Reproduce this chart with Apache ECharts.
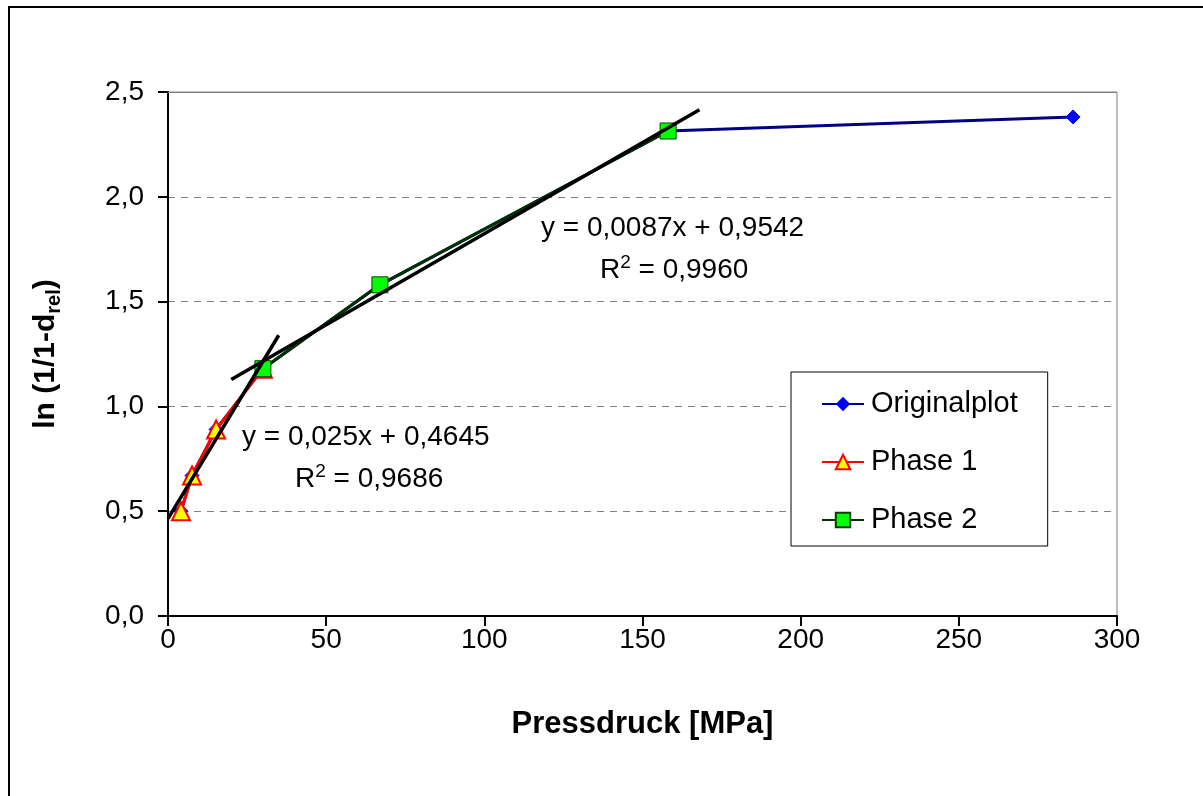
<!DOCTYPE html>
<html>
<head>
<meta charset="utf-8">
<script src="https://cdn.jsdelivr.net/npm/echarts@6/dist/echarts.min.js"></script>
<style>
html,body{margin:0;padding:0;background:#fff;}
#c{width:1203px;height:796px;}
</style>
</head>
<body>
<div id="c"></div>
<script>
// Data
const originalX = [4.1, 7.6, 15.2, 30.0, 67.0, 158.1, 286.1];
const originalY = [0.50, 0.67, 0.89, 1.18, 1.58, 2.314, 2.381];
const phase1X = [4.1, 7.6, 15.2, 30.0];
const phase1Y = [0.50, 0.67, 0.89, 1.18];
const phase2X = [30.0, 67.0, 158.1];
const phase2Y = [1.18, 1.58, 2.314];
// Trendline endpoints (from the displayed equations)
const trend1X = [0, 35];
const trend1Y = [0.4645, 1.3395];
const trend2X = [20, 168];
const trend2Y = [1.1282, 2.4158];
const xTicks = [0, 50, 100, 150, 200, 250, 300];
const yTicks = [0, 0.5, 1.0, 1.5, 2.0, 2.5];

const pairs = (xs, ys) => xs.map((x, i) => [x, ys[i]]);
const FONT = '"Liberation Sans", Arial, sans-serif';

const chart = echarts.init(document.getElementById('c'), null, {renderer: 'canvas'});
chart.setOption({
  backgroundColor: '#fff',
  animation: false,
  textStyle: {fontFamily: FONT},
  grid: {left: 168, top: 92, right: 86, bottom: 180, show: true, borderColor: '#808080', borderWidth: 1, backgroundColor: 'transparent'},
  xAxis: {
    type: 'value', min: xTicks[0], max: xTicks[xTicks.length - 1], interval: 50,
    axisLine: {show: true, onZero: false, lineStyle: {color: '#000', width: 2}},
    axisTick: {show: true, inside: false, length: 10, lineStyle: {color: '#000', width: 2}},
    axisLabel: {fontSize: 28, color: '#000', fontFamily: FONT, margin: 10},
    splitLine: {show: false},
    name: 'Pressdruck [MPa]', nameLocation: 'middle', nameGap: 93,
    nameTextStyle: {fontSize: 31, fontWeight: 'bold', color: '#000', fontFamily: FONT}
  },
  yAxis: {
    type: 'value', min: yTicks[0], max: yTicks[yTicks.length - 1], interval: 0.5,
    axisLine: {show: true, onZero: false, lineStyle: {color: '#000', width: 2}},
    axisTick: {show: true, inside: false, length: 10, lineStyle: {color: '#000', width: 2}},
    axisLabel: {fontSize: 28, color: '#000', fontFamily: FONT, margin: 24,
      formatter: v => v.toFixed(1).replace('.', ',')},
    splitLine: {show: true, lineStyle: {color: '#808080', width: 1, type: [7, 6]}},
    name: '{b|ln (1/1-d}{s|rel}{b|)}', nameLocation: 'middle', nameGap: 104, nameRotate: 90,
    nameTextStyle: {
      color: '#000',
      rich: {
        b: {fontSize: 30, fontWeight: 'bold', color: '#000', fontFamily: FONT, lineHeight: 36},
        s: {fontSize: 20, fontWeight: 'bold', color: '#000', fontFamily: FONT, verticalAlign: 'bottom', lineHeight: 28}
      }
    }
  },
  legend: {
    orient: 'vertical', left: 791, top: 372,
    data: ['Originalplot', 'Phase 1', 'Phase 2'],
    backgroundColor: '#fff', borderColor: '#000', borderWidth: 1,
    padding: [17, 30, 11, 30], itemGap: 28, itemWidth: 42, itemHeight: 18,
    textStyle: {fontSize: 29, lineHeight: 30, color: '#000', fontFamily: FONT, padding: [0, 0, 0, 2]}
  },
  series: [
    {name: 'Originalplot', type: 'line', data: pairs(originalX, originalY),
      symbol: 'diamond', symbolSize: 14, z: 2,
      lineStyle: {color: '#000080', width: 3}, itemStyle: {color: '#0000FF', borderColor: '#0000FF'},
      markLine: {silent: true, symbol: 'none', label: {show: false},
        lineStyle: {color: '#808080', width: 1, type: 'solid'}, data: [{yAxis: yTicks[yTicks.length - 1]}]}},
    {name: 'Phase 1', type: 'line', data: pairs(phase1X, phase1Y),
      symbol: 'triangle', symbolSize: 18, z: 3,
      lineStyle: {color: '#FF0000', width: 3}, itemStyle: {color: '#FFFF00', borderColor: '#FF0000', borderWidth: 2}},
    {name: 'Phase 2', type: 'line', data: pairs(phase2X, phase2Y),
      symbol: 'rect', symbolSize: 16, z: 4,
      lineStyle: {color: '#003300', width: 3}, itemStyle: {color: '#00FF00', borderColor: '#004000', borderWidth: 1}},
    {name: 'trend1', type: 'line', data: pairs(trend1X, trend1Y), symbol: 'none', z: 5,
      lineStyle: {color: '#000', width: 3.5}, silent: true},
    {name: 'trend2', type: 'line', data: pairs(trend2X, trend2Y), symbol: 'none', z: 5,
      lineStyle: {color: '#000', width: 3.5}, silent: true}
  ],
  graphic: [
    {type: 'rect', left: 8, top: 6, z: -10, silent: true,
      shape: {width: 1210, height: 810}, style: {fill: 'transparent', stroke: '#000', lineWidth: 2}},
    {type: 'text', left: 541, top: 214, z: 50,
      style: {text: 'y = 0,0087x + 0,9542', fontSize: 28, fill: '#000', fontFamily: FONT}},
    {type: 'text', left: 600, top: 253, z: 50,
      style: {text: '{n|R}{p|2}{n| = 0,9960}', fontFamily: FONT,
        rich: {n: {fontSize: 28, color: '#000', lineHeight: 34, fontFamily: FONT},
               p: {fontSize: 19, color: '#000', verticalAlign: 'top', lineHeight: 34, fontFamily: FONT}}}},
    {type: 'text', left: 242, top: 423, z: 50,
      style: {text: 'y = 0,025x + 0,4645', fontSize: 28, fill: '#000', fontFamily: FONT}},
    {type: 'text', left: 295, top: 462, z: 50,
      style: {text: '{n|R}{p|2}{n| = 0,9686}', fontFamily: FONT,
        rich: {n: {fontSize: 28, color: '#000', lineHeight: 34, fontFamily: FONT},
               p: {fontSize: 19, color: '#000', verticalAlign: 'top', lineHeight: 34, fontFamily: FONT}}}}
  ]
});
</script>
</body>
</html>
